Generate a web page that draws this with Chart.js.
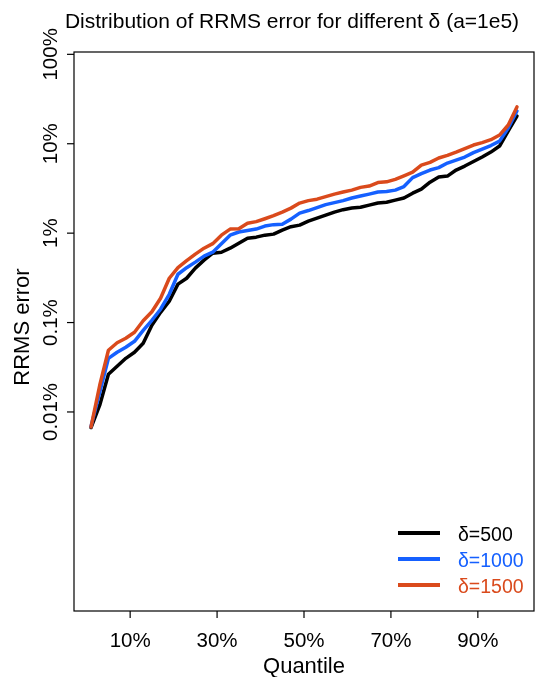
<!DOCTYPE html>
<html>
<head>
<meta charset="utf-8">
<script src="https://cdn.jsdelivr.net/npm/chart.js@4"></script>
<style>
  body { margin: 0; background: #fff; }
  canvas { display: block; }
</style>
</head>
<body>
<canvas id="rrmsChart" width="543" height="677"></canvas>
<script>
// Quantiles (in %) at which the RRMS error was evaluated
const quantiles = [1, 3, 5, 7, 9, 11, 13, 15, 17, 19, 21, 23, 25, 27, 29, 31, 33, 35, 37, 39,
    41, 43, 45, 47, 49, 51, 53, 55, 57, 59, 61, 63, 65, 67, 69, 71, 73, 75, 77, 79,
    81, 83, 85, 87, 89, 91, 93, 95, 97, 99];

// RRMS error in %
const delta500 = [0.0067, 0.0119, 0.0264, 0.0324, 0.0398, 0.0465, 0.0586, 0.0933, 0.130, 0.173,
    0.269, 0.313, 0.406, 0.499, 0.597, 0.612, 0.679, 0.773, 0.879, 0.902,
    0.950, 0.975, 1.08, 1.18, 1.23, 1.36, 1.47, 1.59, 1.72, 1.83,
    1.91, 1.95, 2.06, 2.17, 2.22, 2.34, 2.47, 2.80, 3.11, 3.72,
    4.24, 4.35, 5.08, 5.63, 6.32, 7.10, 8.07, 9.42, 13.9, 20.4];
const delta1000 = [0.0069, 0.0166, 0.0398, 0.0465, 0.0529, 0.0617, 0.0818, 0.106, 0.141, 0.207,
    0.347, 0.411, 0.474, 0.553, 0.612, 0.763, 0.950, 1.03, 1.07, 1.11,
    1.20, 1.245, 1.26, 1.435, 1.675, 1.79, 1.93, 2.085, 2.195, 2.31,
    2.47, 2.60, 2.73, 2.88, 2.92, 3.03, 3.32, 4.18, 4.64, 5.08,
    5.41, 6.08, 6.57, 7.10, 7.96, 8.72, 9.55, 10.7, 15.0, 23.2];
const delta1500 = [0.0068, 0.0199, 0.049, 0.0594, 0.0667, 0.0778, 0.1047, 0.132, 0.187, 0.313,
    0.411, 0.492, 0.582, 0.679, 0.763, 0.950, 1.11, 1.12, 1.29, 1.345,
    1.45, 1.57, 1.72, 1.905, 2.17, 2.31, 2.40, 2.56, 2.73, 2.88,
    3.03, 3.25, 3.36, 3.68, 3.75, 4.00, 4.38, 4.82, 5.77, 6.19,
    6.92, 7.41, 8.07, 8.84, 9.67, 10.3, 11.1, 12.5, 16.2, 25.8];

const seriesLabels = ['δ=500', 'δ=1000', 'δ=1500'];
const seriesColors = ['#000000', '#1560FF', '#DA4A1C'];

const xTickValues = [10, 30, 50, 70, 90];
const yTickValues = [0.01, 0.1, 1, 10, 100];
const yTickLabels = ['0.01%', '0.1%', '1%', '10%', '100%'];

const FONT = "'Liberation Sans', Arial, Helvetica, sans-serif";

// R-like frame, ticks, labels, title and legend
const rFrame = {
    id: 'rFrame',
    afterDraw(chart) {
        const { ctx, chartArea: a, scales: { x, y } } = chart;
        ctx.save();
        ctx.strokeStyle = '#000';
        ctx.fillStyle = '#000';
        ctx.lineWidth = 1.2;
        ctx.strokeRect(a.left, a.top, a.right - a.left, a.bottom - a.top);

        // x axis ticks
        ctx.font = '20.5px ' + FONT;
        ctx.textAlign = 'center';
        ctx.textBaseline = 'alphabetic';
        xTickValues.forEach(v => {
            const px = x.getPixelForValue(v);
            ctx.beginPath();
            ctx.moveTo(px, a.bottom);
            ctx.lineTo(px, a.bottom + 7);
            ctx.stroke();
            ctx.fillText(v + '%', px, 647);
        });

        // y axis ticks (labels parallel to the axis)
        yTickValues.forEach((v, i) => {
            const py = y.getPixelForValue(v);
            ctx.beginPath();
            ctx.moveTo(a.left - 7, py);
            ctx.lineTo(a.left, py);
            ctx.stroke();
            ctx.save();
            ctx.translate(57, py);
            ctx.rotate(-Math.PI / 2);
            ctx.fillText(yTickLabels[i], 0, 0);
            ctx.restore();
        });

        // axis titles
        ctx.font = '22px ' + FONT;
        ctx.fillText('Quantile', (a.left + a.right) / 2, 673);
        ctx.save();
        ctx.translate(29, 327);
        ctx.rotate(-Math.PI / 2);
        ctx.fillText('RRMS error', 0, 0);
        ctx.restore();

        // main title
        ctx.font = '21px ' + FONT;
        ctx.fillText('Distribution of RRMS error for different δ (a=1e5)', 292, 28);

        // legend
        ctx.font = '19.5px ' + FONT;
        ctx.textAlign = 'left';
        chart.data.datasets.forEach((ds, i) => {
            const ly = 533 + i * 26;
            ctx.strokeStyle = ds.borderColor;
            ctx.lineWidth = 4;
            ctx.beginPath();
            ctx.moveTo(398, ly);
            ctx.lineTo(440, ly);
            ctx.stroke();
            ctx.fillStyle = ds.borderColor;
            ctx.fillText(ds.label, 458, ly + 8);
        });
        ctx.restore();
    }
};

const toPoints = vals => vals.map((v, i) => ({ x: quantiles[i], y: v }));

new Chart(document.getElementById('rrmsChart'), {
    type: 'line',
    data: {
        datasets: [
            { label: seriesLabels[0], data: toPoints(delta500), borderColor: seriesColors[0], order: 3 },
            { label: seriesLabels[1], data: toPoints(delta1000), borderColor: seriesColors[1], order: 2 },
            { label: seriesLabels[2], data: toPoints(delta1500), borderColor: seriesColors[2], order: 1 }
        ]
    },
    options: {
        responsive: false,
        animation: false,
        layout: { padding: { left: 74, right: 9, top: 52, bottom: 66 } },
        elements: {
            line: { borderWidth: 3.5, tension: 0, borderJoinStyle: 'round', borderCapStyle: 'round' },
            point: { radius: 0 }
        },
        plugins: {
            legend: { display: false },
            tooltip: { enabled: false },
            title: { display: false }
        },
        scales: {
            x: { type: 'linear', min: -2.92, max: 102.92, display: false },
            y: { type: 'logarithmic', min: 5.94e-5, max: 106.2, display: false }
        }
    },
    plugins: [rFrame]
});
</script>
</body>
</html>
